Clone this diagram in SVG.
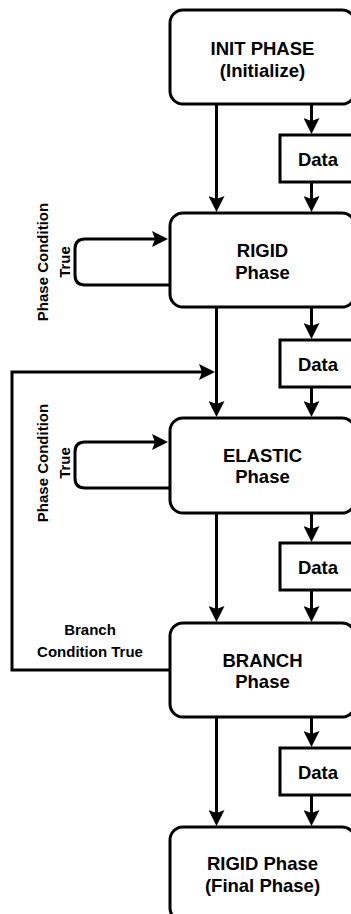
<svg xmlns="http://www.w3.org/2000/svg" width="351" height="914" viewBox="0 0 351 914">
  <style>
    .node { fill: #ffffff; stroke: #000000; stroke-width: 3; }
    .box { fill: #ffffff; stroke: #000000; stroke-width: 3; }
    .edge { fill: none; stroke: #000000; stroke-width: 3; marker-end: url(#arrow); }
    .line { fill: none; stroke: #000000; stroke-width: 3; }
    .title { font-family: "Liberation Sans", Arial, sans-serif; font-weight: bold; font-size: 18.5px; fill: #000000; text-anchor: middle; }
    .label { font-family: "Liberation Sans", Arial, sans-serif; font-weight: bold; font-size: 15px; fill: #000000; text-anchor: middle; }
  </style>
  <defs>
    <marker id="arrow" viewBox="0 0 16 16" refX="8" refY="8" markerWidth="16" markerHeight="16" markerUnits="userSpaceOnUse" orient="auto">
      <path d="M0,0 L16,8 L0,16 L3,8 Z" fill="#000000"/>
    </marker>
  </defs>

  <!-- connectors -->
  <g id="connectors">
    <!-- INIT -> RIGID -->
    <path class="edge" d="M216.5 104 V204"/>
    <path class="edge" d="M311.5 104 V126"/>
    <path class="edge" d="M311.5 182 V204"/>
    <!-- RIGID self loop -->
    <path class="edge" d="M170 285 H85 Q75 285 75 275 V249 Q75 239 85 239 H160"/>
    <!-- RIGID -> ELASTIC -->
    <path class="edge" d="M216.5 307 V409"/>
    <path class="edge" d="M311.5 307 V331"/>
    <path class="edge" d="M311.5 387 V409"/>
    <!-- ELASTIC self loop -->
    <path class="edge" d="M170 488 H85 Q75 488 75 478 V452 Q75 442 85 442 H160"/>
    <!-- ELASTIC -> BRANCH -->
    <path class="edge" d="M216.5 513 V614"/>
    <path class="edge" d="M311.5 513 V534"/>
    <path class="edge" d="M311.5 590 V614"/>
    <!-- BRANCH return to ELASTIC -->
    <path class="edge" d="M170 670 H12 V372 H207"/>
    <!-- BRANCH -> final RIGID -->
    <path class="edge" d="M216.5 717 V818"/>
    <path class="edge" d="M311.5 717 V739"/>
    <path class="edge" d="M311.5 795 V818"/>
  </g>

  <!-- loop and branch labels -->
  <g id="labels">
    <text class="label" transform="translate(48 262) rotate(-90)">Phase Condition</text>
    <text class="label" transform="translate(70 262) rotate(-90)">True</text>
    <text class="label" transform="translate(48 463) rotate(-90)">Phase Condition</text>
    <text class="label" transform="translate(70 463) rotate(-90)">True</text>
    <text class="label" x="90" y="635">Branch</text>
    <text class="label" x="90" y="657">Condition True</text>
  </g>

  <g id="init">
    <rect class="node" x="170" y="10" width="185" height="94" rx="13"/>
    <text class="title" x="262.5" y="55">INIT PHASE</text>
    <text class="title" x="262.5" y="76.5">(Initialize)</text>
  </g>

  <g id="data1">
    <rect class="box" x="280" y="135" width="78" height="47"/>
    <text class="title" x="318" y="166">Data</text>
  </g>

  <g id="rigid">
    <rect class="node" x="170" y="213" width="185" height="94" rx="13"/>
    <text class="title" x="262.5" y="257">RIGID</text>
    <text class="title" x="262.5" y="278.5">Phase</text>
  </g>

  <g id="data2">
    <rect class="box" x="280" y="340" width="78" height="47"/>
    <text class="title" x="318" y="371">Data</text>
  </g>

  <g id="elastic">
    <rect class="node" x="170" y="418" width="185" height="95" rx="13"/>
    <text class="title" x="262.5" y="462">ELASTIC</text>
    <text class="title" x="262.5" y="483">Phase</text>
  </g>

  <g id="data3">
    <rect class="box" x="280" y="543" width="78" height="47"/>
    <text class="title" x="318" y="574">Data</text>
  </g>

  <g id="branch">
    <rect class="node" x="170" y="623" width="185" height="94" rx="13"/>
    <text class="title" x="262.5" y="667">BRANCH</text>
    <text class="title" x="262.5" y="688">Phase</text>
  </g>

  <g id="data4">
    <rect class="box" x="280" y="748" width="78" height="47"/>
    <text class="title" x="318" y="779">Data</text>
  </g>

  <g id="final">
    <rect class="node" x="170" y="827" width="185" height="94" rx="13"/>
    <text class="title" x="262.5" y="870">RIGID Phase</text>
    <text class="title" x="262.5" y="891.5">(Final Phase)</text>
  </g>
</svg>
